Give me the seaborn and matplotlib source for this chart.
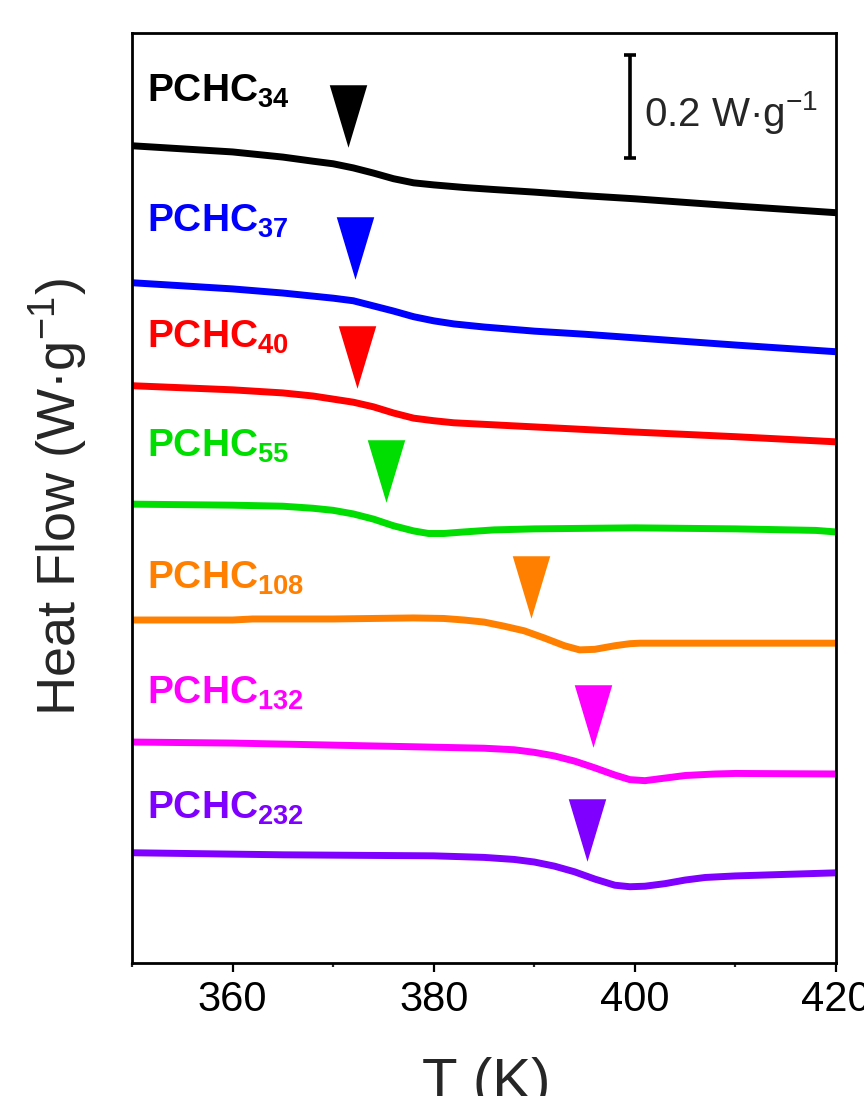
import numpy as np
import pandas as pd
import matplotlib
matplotlib.use("Agg")
import matplotlib.pyplot as plt
import seaborn as sns
from matplotlib.ticker import MultipleLocator

sns.set_theme(style="ticks")
plt.rcParams['font.family'] = ['Liberation Sans', 'DejaVu Sans']
plt.rcParams['mathtext.fontset'] = 'custom'
plt.rcParams['mathtext.rm'] = 'Liberation Sans'
plt.rcParams['mathtext.it'] = 'Liberation Sans:italic'
plt.rcParams['mathtext.bf'] = 'Liberation Sans:bold'

# ---------------- data (heat flow, W/g, vertically offset) ----------------
names = ["34", "37", "40", "55", "108", "132", "232"]
colors = ["#000000", "#0000FF", "#FF0000", "#00DD00", "#FF8000", "#FF00FF", "#8000FF"]

T_34 = [350, 355, 360, 365, 368, 370, 372, 374, 376, 378, 380, 383, 386, 390, 395, 400, 410, 420]
H_34 = [1.587, 1.581, 1.575, 1.565, 1.557, 1.552, 1.544, 1.534, 1.523, 1.515, 1.511, 1.506,
        1.502, 1.497, 1.490, 1.484, 1.470, 1.457]

T_37 = [350, 355, 360, 365, 368, 370, 372, 374, 376, 378, 380, 382, 385, 390, 395, 400, 410, 420]
H_37 = [1.321, 1.315, 1.309, 1.301, 1.295, 1.291, 1.286, 1.276, 1.266, 1.255, 1.247, 1.241,
        1.235, 1.227, 1.221, 1.214, 1.200, 1.187]

T_40 = [350, 355, 360, 365, 368, 370, 372, 374, 376, 378, 380, 382, 386, 390, 400, 410, 420]
H_40 = [1.121, 1.117, 1.113, 1.107, 1.101, 1.095, 1.089, 1.080, 1.068, 1.058, 1.053, 1.049,
        1.045, 1.041, 1.031, 1.022, 1.012]

T_55 = [350, 355, 360, 365, 368, 370, 372, 374, 376, 378, 379.5, 381, 383, 386, 390, 400,
        410, 418, 420]
H_55 = [0.891, 0.890, 0.889, 0.887, 0.883, 0.879, 0.872, 0.862, 0.849, 0.839, 0.834, 0.834,
        0.837, 0.841, 0.843, 0.845, 0.843, 0.840, 0.837]

T_108 = [350, 360, 362, 370, 378, 381, 383, 385, 387, 389, 391, 393, 394.5, 396, 398, 399.5,
         400.5, 410, 420]
H_108 = [0.666, 0.666, 0.668, 0.668, 0.670, 0.669, 0.666, 0.662, 0.654, 0.645, 0.631, 0.616,
         0.608, 0.609, 0.616, 0.620, 0.621, 0.621, 0.621]

T_132 = [350, 360, 370, 380, 385, 388, 390, 392, 394, 396, 398, 399.5, 401, 403, 405, 408,
         410, 420]
H_132 = [0.429, 0.427, 0.423, 0.419, 0.417, 0.414, 0.409, 0.402, 0.392, 0.379, 0.365, 0.356,
         0.354, 0.359, 0.364, 0.367, 0.368, 0.367]

T_232 = [350, 365, 380, 385, 388, 390, 392, 394, 396, 398, 399.5, 401, 403, 405, 407, 410,
         415, 420]
H_232 = [0.214, 0.210, 0.208, 0.205, 0.201, 0.196, 0.188, 0.177, 0.163, 0.151, 0.148, 0.149,
         0.154, 0.161, 0.166, 0.169, 0.172, 0.175]

# glass transition markers (T, y-centre of marker)
Tg_T = [371.5, 372.2, 372.4, 375.3, 389.7, 395.8, 395.2]
Tg_y = [1.645, 1.389, 1.177, 0.955, 0.730, 0.480, 0.258]

# label anchors (T of left edge, baseline y)
lab_T = [351.5, 351.5, 351.5, 351.5, 351.5, 351.5, 351.5]
lab_y = [1.672, 1.420, 1.194, 0.983, 0.726, 0.503, 0.280]

xticks_major = [360, 380, 400, 420]
scale_T, scale_mid, scale_half = 399.5, 1.663, 0.1
scale_label = "0.2 W·g$^{-1}$"

Ts = [T_34, T_37, T_40, T_55, T_108, T_132, T_232]
Hs = [H_34, H_37, H_40, H_55, H_108, H_132, H_232]
frames = []
for n, t, h in zip(names, Ts, Hs):
    frames.append(pd.DataFrame({"T": t, "H": h, "sample": n}))
df = pd.concat(frames, ignore_index=True)

# ---------------- figure ----------------
fig = plt.figure(figsize=(8.64, 10.96), dpi=100)
ax = fig.add_axes([0.1528, 0.1214, 0.8148, 0.8485])

sns.lineplot(data=df, x="T", y="H", hue="sample", palette=dict(zip(names, colors)),
             linewidth=5, legend=False, ax=ax, sort=False, estimator=None)
for line in ax.get_lines():
    line.set_solid_capstyle('butt')
    line.set_solid_joinstyle('round')

tri = [(-0.3, 0.5), (0.3, 0.5), (0.0, -0.5)]
for tx, ty, c in zip(Tg_T, Tg_y, colors):
    ax.plot([tx], [ty], marker=tri, markersize=45, color=c, linestyle='none',
            markeredgewidth=0)

for n, lx, ly, c in zip(names, lab_T, lab_y, colors):
    ax.text(lx, ly, r"$\mathbf{PCHC}_{\mathbf{%s}}$" % n, color=c, fontsize=28,
            ha='left', va='baseline')

# scale bar
ax.errorbar([scale_T], [scale_mid], yerr=[scale_half], color='black', capsize=4,
            elinewidth=2.6, capthick=2.6, fmt='none')
ax.text(scale_T + 1.45, scale_mid - 0.012, scale_label, fontsize=29, ha='left', va='center')

ax.set_xlim(350, 420)
ax.set_ylim(0, 1.806)
ax.set_xticks(xticks_major)
ax.xaxis.set_minor_locator(MultipleLocator(10))
ax.set_yticks([])
ax.tick_params(axis='x', which='major', direction='out', length=6.5, width=1.6,
               labelsize=30, pad=6, colors='black')
ax.tick_params(axis='x', which='minor', direction='out', length=3, width=1.6)
for s in ax.spines.values():
    s.set_visible(True)
    s.set_linewidth(2.0)
    s.set_color('black')

ax.set_xlabel("T (K)", fontsize=42)
ax.set_ylabel("Heat Flow (W·g$^{-1}$)", fontsize=39)
ax.xaxis.set_label_coords(0.503, -0.101)
ax.yaxis.set_label_coords(-0.06, 0.501)

fig.savefig("out.png", dpi=100)
